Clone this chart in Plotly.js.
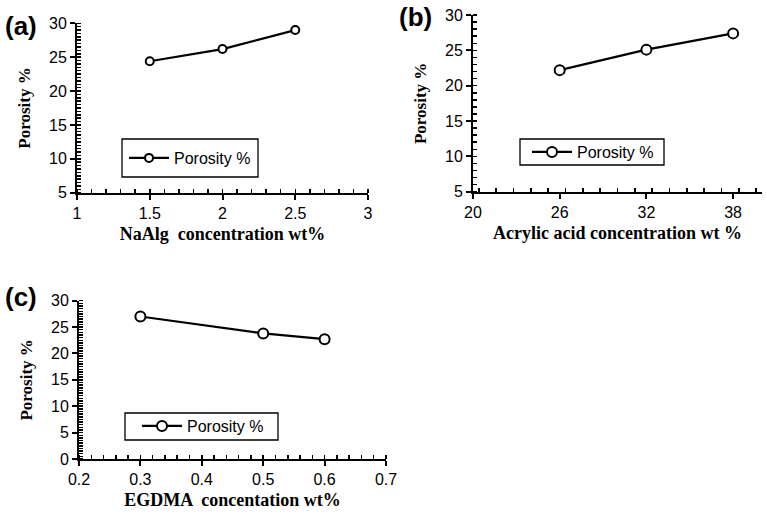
<!DOCTYPE html>
<html>
<head>
<meta charset="utf-8">
<script src="https://cdn.plot.ly/plotly-3.0.1.min.js"></script>
<style>html,body{margin:0;padding:0;background:#fff;}#chart{width:767px;height:517px;}</style>
</head>
<body>
<div id="chart"></div>
<script>
// Panel (a): NaAlg concentration
const naalgConc = [1.5, 2, 2.5];
const naalgPorosity = [24.4, 26.2, 29.0];
// Panel (b): Acrylic acid concentration
const acrylicConc = [26, 32, 38];
const acrylicPorosity = [22.2, 25.1, 27.4];
// Panel (c): EGDMA concentration
const egdmaConc = [0.3, 0.5, 0.6];
const egdmaPorosity = [27.0, 23.8, 22.7];

const seriesName = 'Porosity %';
const xTitles = ['NaAlg  concentration wt%', 'Acrylic acid concentration wt %', 'EGDMA  concentation wt%'];
const yTitle = 'Porosity %';
const panelLabels = ['(a)', '(b)', '(c)'];

const W = 767, H = 517;
const px = v => v / W;
const py = v => 1 - v / H;

const tickFont = {family: 'Liberation Sans, Arial, sans-serif', size: 16, color: '#000'};
const xTitleFont = {family: 'Liberation Serif, Times New Roman, serif', size: 18, color: '#000', weight: 'bold'};
const yTitleFont = {family: 'Liberation Serif, Times New Roman, serif', size: 17, color: '#000', weight: 'bold'};

function trace(x, y, xa, ya, leg, msize) {
  return {
    x: x, y: y, xaxis: xa, yaxis: ya, legend: leg,
    type: 'scatter', mode: 'lines+markers', name: seriesName,
    line: {color: '#000', width: 2.2},
    marker: {symbol: 'circle', size: msize, color: '#fff', line: {color: '#000', width: 2}},
    cliponaxis: false
  };
}

function xAxis(domain, range, dtick, minorDtick, title, anchor) {
  return {
    domain: domain, range: range, dtick: dtick, tick0: range[0], anchor: anchor,
    showgrid: false, zeroline: false, showline: true, linecolor: '#000', linewidth: 2,
    ticks: 'outside', ticklen: 5, tickwidth: 2, tickcolor: '#000',
    minor: {dtick: minorDtick, ticks: 'inside', ticklen: 4, tickwidth: 1.5, tickcolor: '#000', showgrid: false},
    tickfont: tickFont, title: {text: title, font: xTitleFont, standoff: 6}
  };
}
function yAxis(domain, range, dtick, minorDtick, anchor) {
  return {
    domain: domain, range: range, dtick: dtick, tick0: range[0], anchor: anchor,
    showgrid: false, zeroline: false, showline: true, linecolor: '#000', linewidth: 2,
    ticks: 'outside', ticklen: 5, tickwidth: 2, tickcolor: '#000',
    minor: {dtick: minorDtick, ticks: 'inside', ticklen: 4, tickwidth: 1.5, tickcolor: '#000', showgrid: false},
    tickfont: tickFont, title: {text: yTitle, font: yTitleFont, standoff: 14}
  };
}

const data = [
  trace(naalgConc, naalgPorosity, 'x', 'y', 'legend', 8),
  trace(acrylicConc, acrylicPorosity, 'x2', 'y2', 'legend2', 10),
  trace(egdmaConc, egdmaPorosity, 'x3', 'y3', 'legend3', 10)
];

function legend(xPix, yPix) {
  return {x: px(xPix), y: py(yPix), xanchor: 'left', yanchor: 'middle', bgcolor: 'rgba(0,0,0,0)',
    borderwidth: 0, itemwidth: 40,
    font: {family: 'Liberation Sans, Arial, sans-serif', size: 16, color: '#000'}};
}

function box(x0, y0, x1, y1) {
  return {type: 'rect', xref: 'paper', yref: 'paper', x0: px(x0), x1: px(x1), y0: py(y1), y1: py(y0),
    line: {color: '#000', width: 1.3}, fillcolor: 'rgba(0,0,0,0)'};
}

function label(text, xPix, yPix) {
  return {text: text, xref: 'paper', yref: 'paper', x: px(xPix), y: py(yPix), xanchor: 'left', yanchor: 'middle',
    showarrow: false, font: {family: 'Liberation Sans, Arial, sans-serif', size: 26, color: '#000', weight: 'bold'}};
}

const layout = {
  width: W, height: H,
  margin: {l: 0, r: 0, t: 0, b: 0},
  paper_bgcolor: '#fff', plot_bgcolor: '#fff',
  showlegend: true,
  xaxis: xAxis([px(77), px(368)], [1, 3], 0.5, 0.1, xTitles[0], 'y'),
  yaxis: yAxis([py(192.7), py(23.3)], [5, 30], 5, 0.5, 'x'),
  xaxis2: xAxis([px(473), px(762)], [20, 40], 6, 1.2, xTitles[1], 'y2'),
  yaxis2: yAxis([py(191.7), py(15)], [5, 30], 5, 1, 'x2'),
  xaxis3: xAxis([px(79), px(386)], [0.2, 0.7], 0.1, 0.02, xTitles[2], 'y3'),
  yaxis3: yAxis([py(459), py(300.7)], [0, 30], 5, 0.5, 'x3'),
  legend: legend(124, 158),
  legend2: legend(527, 152),
  legend3: legend(137, 426),
  shapes: [box(122, 139, 258, 177), box(520, 139, 664, 165), box(125, 413, 278, 440)],
  annotations: [label(panelLabels[0], 3, 26), label(panelLabels[1], 397, 17), label(panelLabels[2], 3, 297)]
};

Plotly.newPlot('chart', data, layout, {displayModeBar: false, staticPlot: true});
</script>
</body>
</html>
